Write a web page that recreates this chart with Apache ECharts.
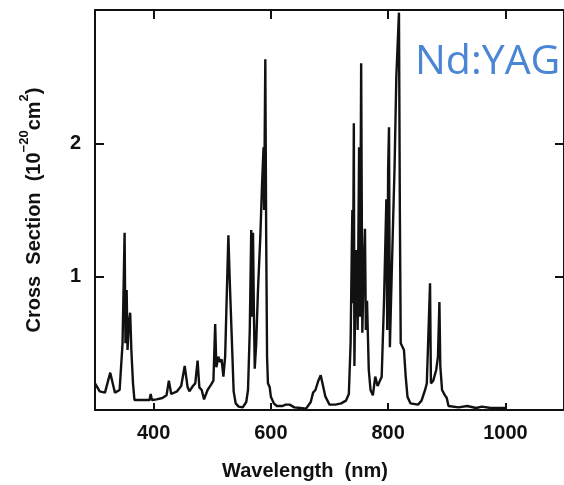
<!DOCTYPE html>
<html>
<head>
<meta charset="utf-8">
<script src="https://cdn.jsdelivr.net/npm/echarts@6/dist/echarts.min.js"></script>
<style>html,body{margin:0;padding:0;background:#fff}#c{width:564px;height:485px}</style>
</head>
<body>
<div id="c"></div>
<script>
// Wavelength (nm)
const wavelengths = [300,308,317,326,334,342,347,350.5,352,354,355.5,357.7,360,362,364.8,367.3,380,393,395,397,405,415,422,426,430,440,447,453,458,461,467,471,475,478,482,486,492,498,502,505,507,510.5,513,516,519,522,525,527.5,530,533,536.5,540,545,552,558,561,564,566.5,568,569.5,571,572.5,575,578,582,585,587.5,588.5,590.5,592,593.5,595,598,600,605,610,620,625,632,640,650,660,668,672,676,681,685,688,693,700,710,720,728,733,736,738,739,740,741.5,742.5,744,746,748,750.5,752,754,756,758,760.5,762,764,767,770,774,778,782,786,789,793,795,797,798.5,800,801.5,803,806,809,811,814,818.5,820,821.5,827,830,833,838,851,857,863,866,871.5,873,877,882,885,887.5,889,892,897,900,903,920,935,950,960,975,1000];
// Cross section (10^-20 cm^2)
const crossSection = [0.2,0.14,0.13,0.28,0.13,0.15,0.5,1.33,0.5,0.9,0.45,0.65,0.73,0.45,0.2,0.075,0.075,0.075,0.12,0.075,0.08,0.09,0.11,0.22,0.12,0.14,0.18,0.33,0.17,0.14,0.18,0.2,0.37,0.17,0.15,0.08,0.15,0.19,0.22,0.645,0.32,0.4,0.36,0.38,0.25,0.4,0.9,1.31,0.95,0.58,0.14,0.05,0.025,0.02,0.06,0.15,0.6,1.35,0.7,1.33,0.75,0.31,0.5,0.9,1.3,1.7,1.97,1.5,2.63,1.3,0.4,0.2,0.17,0.1,0.05,0.03,0.03,0.04,0.04,0.02,0.015,0.01,0.06,0.13,0.15,0.22,0.26,0.2,0.1,0.04,0.04,0.05,0.07,0.12,0.5,1.2,1.5,0.8,2.15,0.33,0.9,1.2,0.6,1.97,0.7,2.6,0.58,1.0,1.36,0.6,0.82,0.3,0.15,0.11,0.25,0.18,0.22,0.25,0.82,1.2,1.58,0.6,1.8,2.12,0.47,1.0,1.5,1.82,2.5,2.98,1.5,0.5,0.45,0.25,0.1,0.05,0.04,0.07,0.15,0.2,0.95,0.2,0.22,0.3,0.4,0.81,0.33,0.15,0.11,0.09,0.03,0.02,0.03,0.015,0.025,0.015,0.015];
const xTicks = [400,600,800,1000];
const yTicks = [1,2];

const chart = echarts.init(document.getElementById('c'), null, {renderer:'canvas'});
const FONT = 'Liberation Sans';
const lineCol = '#111';
const axisCommon = {
  axisLine:{show:true, onZero:false, lineStyle:{color:lineCol, width:2}},
  splitLine:{show:false}
};
chart.setOption({
  animation:false,
  backgroundColor:'#fff',
  grid:{left:95, top:10, right:-8, bottom:75, containLabel:false},
  xAxis:[
    Object.assign({type:'value', min:300, max:1100, interval:100, position:'bottom',
      axisTick:{show:true, inside:true, length:7, customValues:xTicks, lineStyle:{color:lineCol, width:2}},
      axisLabel:{show:true, customValues:xTicks, margin:13, color:'#111', fontFamily:FONT, fontWeight:'bold', fontSize:20,
        formatter:v=>String(v)}
    }, axisCommon),
    Object.assign({type:'value', min:300, max:1100, interval:100, position:'top',
      axisTick:{show:true, inside:true, length:9, customValues:xTicks, lineStyle:{color:lineCol, width:2}},
      axisLabel:{show:false}
    }, axisCommon)
  ],
  yAxis:[
    Object.assign({type:'value', min:0, max:3, interval:1, position:'left',
      axisTick:{show:true, inside:true, length:9, customValues:yTicks, lineStyle:{color:lineCol, width:2}},
      axisLabel:{show:true, customValues:yTicks, margin:14, color:'#111', fontFamily:FONT, fontWeight:'bold', fontSize:20,
        formatter:v=>String(v)},
      name:'{a|Cross  Section  (10}{s|−20}{a|cm}{s|2}{a|)}',
      nameLocation:'middle', nameGap:51, nameRotate:90,
      nameTextStyle:{rich:{
        a:{fontFamily:FONT, fontWeight:'bold', fontSize:20, color:'#111', lineHeight:26, verticalAlign:'bottom'},
        s:{fontFamily:FONT, fontWeight:'bold', fontSize:13, color:'#111', lineHeight:26, verticalAlign:'top'}
      }}
    }, axisCommon),
    Object.assign({type:'value', min:0, max:3, interval:1, position:'right',
      axisTick:{show:true, inside:true, length:9, customValues:yTicks, lineStyle:{color:lineCol, width:2}},
      axisLabel:{show:false}
    }, axisCommon)
  ],
  graphic:[
    {type:'text', left:222, top:461, style:{text:'Wavelength  (nm)', fill:'#111', font:'bold 20px "Liberation Sans"'}},
    {type:'text', left:415, top:42, style:{text:'Nd:YAG', fill:'#4A86D4', font:'41px "Open Sans"'}}
  ],
  series:[{
    type:'line', xAxisIndex:0, yAxisIndex:0,
    data: wavelengths.map((w,i)=>[w, crossSection[i]]),
    showSymbol:false, symbol:'none',
    lineStyle:{color:lineCol, width:2.4}
  }]
});
</script>
</body>
</html>
